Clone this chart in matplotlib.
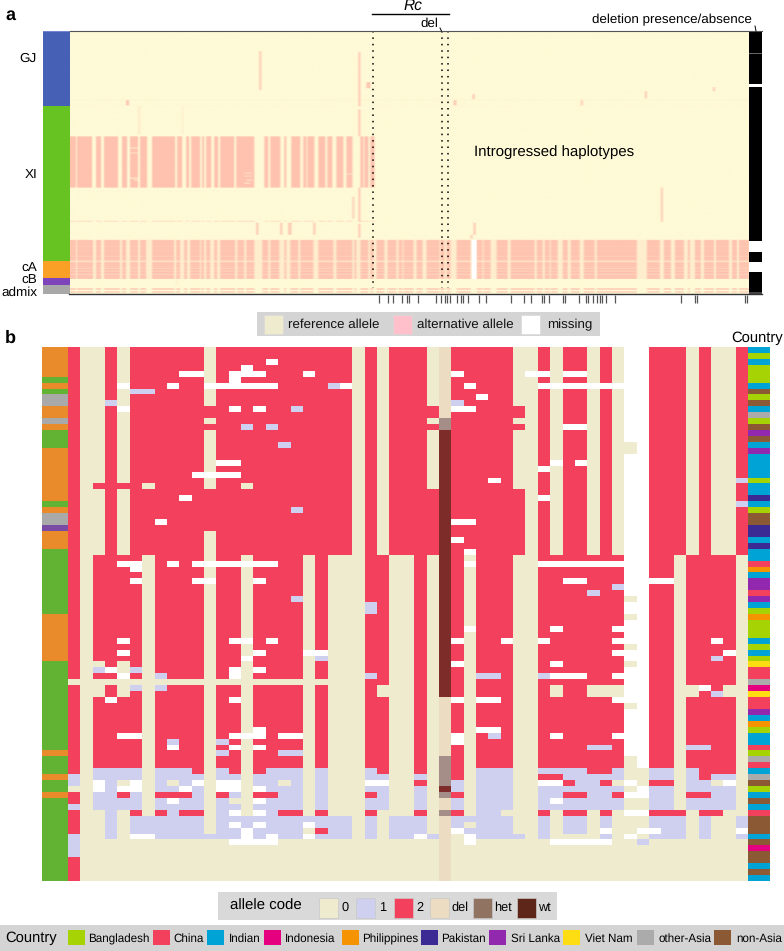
# -*- coding: utf-8 -*-
import numpy as np
import matplotlib
matplotlib.use('Agg')
import matplotlib.pyplot as plt
from matplotlib.colors import ListedColormap, LinearSegmentedColormap, to_rgb
from matplotlib.patches import Rectangle

plt.rcParams['font.family'] = ['Liberation Sans', 'DejaVu Sans']
plt.rcParams['text.hinting'] = 'none'

W, H = 784, 951

# ---- panel a data (positions on the haplotype axis)
group_names = ['GJ', 'XI', 'cA', 'cB', 'admix']
group_sizes = [74.5, 155.5, 17, 7, 9]
group_colors = ['#4560B4', '#66C322', '#FBA026', '#7E44BA', '#A8A8A8']

upper_stripes = [(69.5, 75), (76.7, 91.7), (95, 100.7), (104, 117.3), (122, 126.7), (129, 137.7),
                 (140, 146.7), (151.7, 174.3), (176.7, 181.3), (185.3, 188.3), (190.7, 200),
                 (202, 204), (206, 210.7), (213.3, 217.3), (220, 234), (236, 254), (263.3, 268),
                 (270, 279.3), (283.7, 285.7), (290.7, 300), (302.7, 305), (306.7, 313.3),
                 (317.7, 324.3), (326.7, 331.7), (336, 342.7), (345, 352), (360, 362.7),
                 (364, 367.3), (370, 373.3)]
lower_stripes = [(70, 75), (76.7, 92.7), (96, 100.7), (103.3, 119.3), (122, 126), (129, 137.3),
                 (140, 146), (151.7, 173.3), (176, 180), (184, 186.7), (189.3, 199.3),
                 (200.7, 203.3), (205, 210), (213.3, 216.7), (219.3, 234.7), (236.7, 244),
                 (246, 253.3), (261.7, 267.3), (270, 278.3), (283.3, 286), (290, 297.3),
                 (299.3, 312.7), (317.3, 332.7), (336, 351.7), (353.3, 355.3), (359.3, 367.3),
                 (369.3, 372.7), (376, 383.3), (386.7, 395), (397.3, 401.7), (402.7, 412.7),
                 (415, 421.7), (425, 429.3), (430, 438.3), (440, 444), (445.3, 450), (455, 470),
                 (475, 481.7), (482.7, 490), (495.3, 506.7), (509.3, 533.3), (535, 541),
                 (543.3, 548.3), (550, 556.7), (561, 566.7), (570, 578.3), (582.3, 593.3),
                 (595.7, 635.7), (645.7, 658.3), (662.3, 669), (673, 682.3), (686.7, 688.3),
                 (693.3, 700), (702.7, 712.3), (714.3, 727.7), (730.3, 735), (737, 747.7)]
lower_row_shade = [.85, .95, 1, .9, 1, 1, .8, 1, .95, 1, .85, .95, 1, .9, 1, .95, .8, 1, .9, 1,
                   .7, .45, .75, 1, .9, 1, .85, .95, .7, 1, .9, .8, 1, .95, .7, 1, .85, 1, .9]
# x0, x1, y0, y1, strength
streaks = [(357, 359.5, 53, 107, .85), (357, 359.5, 110, 136.5, .85), (357, 359.5, 188, 222, .85),
           (357, 359.5, 224, 238, .85), (258.3, 260.7, 52, 91, .8), (126, 128.5, 101, 106, .9),
           (366, 370, 83, 89, .9), (352, 353.7, 197, 219, .7), (255.7, 258, 223, 235, .9),
           (279, 281, 223, 235, .9), (288, 290.5, 223, 235, .9), (312.5, 314.5, 223, 235, .9),
           (138, 139, 107, 135, .25), (181.5, 182.5, 107, 135, .25), (471, 473, 95, 100, .9),
           (452.5, 455, 101, 106, .85), (644, 646, 92, 99, .8), (580, 582, 101, 106, .8),
           (712, 714, 88, 92, .8), (660, 662, 188, 222, .75), (472.5, 474.5, 223, 235, .9),
           (470, 472, 235, 239, .8), (175, 176, 279, 285, .3)]
# pale specks inside the upper band: x0, x1, y, strength
specks = [(129, 137, 148, .3), (130, 137, 153, .4), (130, 137, 178, .2), (133, 137, 180, .1),
          (243, 252, 173, .4), (243, 252, 176, .5), (245, 252, 180, .3), (243, 250, 183, .2),
          (346, 352, 174, .4)]
del_runs = [(22, 'k'), (0.6, '#666666'), (30.4, 'k'), (2.7, 'w'), (154.3, 'k'), (11, 'w'),
            (10, 'k'), (10, 'w'), (20, 'k'), (2, '#444444')]
rug_ticks = [379.3, 388.5, 392.7, 402, 406.7, 409, 418, 435.7, 440.7, 445, 447.3, 449.7, 456.7,
             461, 463.3, 467.7, 479.3, 486, 510.7, 524.5, 531, 542.3, 544, 549, 563, 565, 579,
             585.7, 588, 592.7, 597.3, 599.7, 602, 606.3, 615.3, 681.3, 695, 697, 744.7, 746.7]
rc_lines = [373.3, 441.7, 448.3]

# ---- panel b data, one string per haplotype group, codes 0 1 2 del=3 het=4 wt=5 missing=9
hap_a = '2 00 2 0 222222 0 22222222222 0 2 0 222 0 3 22222 00 2 0 22 0 2 0 99 222 0 2 00 2'
hap_b = '2 0 2222 0 2222 0 22 0 2222 0 2 000 22 00 2 0 5 2 0 222 00 2222222 99 22 0 2222 0'
n_a, n_b = 35, 36
rows_c = [
    '2 0 1111 0 111 2 0 1 2 0 2 111 0 1 000 1 2 00 2 0 4 2 0 111 00 1111 22 1 00 11 0 1 2 22 0',
    '1 0 1111 0 1111 0 11 0 1111 0 1 000 11 00 1 0 4 2 0 111 00 22 11111 00 11 0 1 2 11 0',
    '1 0 9 1 0 9 0 1 0 1 9 0 99 0 11 0 1 0 1 000 99 00 2 0 4 1 0 111 00 99 2 11 2 0 9 0 22 0 11 0 9 0',
    '0 0 9 1 99 0 11 9 1 0 99 0 9 111 0 1 000 11 00 1 0 5 1 0 111 00 1111111 0 9 11 0 1111 0',
    '2 0 11 2 1 0 222 1 0 2 1 0 22 11 0 1 000 2 1 00 1 0 4 2 0 111 00 11 22 11 2 99 11 0 22 11 0',
    '2 0 1111 0 1 9 11 0 1 0 0 9 111 0 1 000 11 00 1 0 3 1 0 111 00 1 9 11111 00 11 0 1111 0',
    '1 0 1111 0 1111 0 11 0 1111 0 1 000 11 00 1 0 3 1 0 111 00 1111111 00 11 0 1111 0',
    '2 00 1 0 2 0 2 1 22 0 1 9 0 9 1 22 0 2 000 2 0 00 2 0 4 2 0 11 0 00 2 0 22 0 2 0 99 222 0 22 00',
    '2 00 1 0 111111 0 11111111111 0 1 0 111 0 3 11 111 00 1 0 11 0 1 000 111 0 1 00 1',
    '2 00 1 0 111111 0 1 9 1 9 111 9 111 0 1 0 111 0 3 1 0 111 00 1 0 11 0 1 000 111 0 1 00 1',
    '2 00 1 0 111111 0 11 9 1111 0 2 11 0 1 0 111 0 3 9 1 111 00 1 0 11 0 9 00 99 11 0 1 00 9',
    '1 00 1 0 99 1111111 9 1 9 11 9 111 0 1 0 11 9 1 3 0 9 1111 0 1 0000 1 0 9 0 111 0 1 00 1',
    '1 000000000000 9999 0000000000000 3 0 9 000000 99999 00 1 00000000',
    '1 00000000000000000000000000000 3 000000000000000000000000',
    '1 00000000000000000000000000000 3 000000000000000000000000',
    '2 00000000000000000000000000000 3 000000000000000000000000',
    '2 00000000000000000000000000000 3 000000000000000000000000',
    '2 00000000000000000000000000000 3 000000000000000000000000',
    '2 00000000000000000000000000000 3 000000000000000000000000',
]
# first row, last row, first col, last col, code
patches_ab = [
    (0, 11, 30, 30, 3), (12, 13, 30, 30, 4), (14, 34, 30, 30, 5),
    (10, 11, 11, 11, 2), (13, 13, 11, 11, 2), (24, 30, 11, 11, 2),
    (10, 11, 29, 29, 2), (13, 13, 29, 29, 2), (24, 34, 29, 29, 2),
    (10, 11, 36, 36, 2), (13, 13, 36, 36, 2), (24, 34, 36, 36, 2),
    (2, 2, 16, 16, 9), (3, 3, 14, 14, 9), (4, 4, 9, 10, 9), (4, 4, 13, 15, 9), (4, 4, 19, 19, 9),
    (5, 5, 13, 13, 9), (6, 6, 4, 4, 9), (6, 6, 8, 8, 9), (6, 6, 11, 16, 9), (6, 6, 21, 21, 1),
    (6, 6, 22, 22, 9), (7, 7, 5, 6, 1), (9, 9, 3, 3, 1), (10, 10, 4, 4, 9), (10, 10, 13, 13, 9),
    (10, 10, 15, 15, 9), (10, 10, 18, 18, 1), (13, 13, 14, 14, 1), (13, 13, 16, 16, 1),
    (16, 16, 17, 17, 1), (19, 19, 12, 13, 9), (21, 21, 10, 13, 9), (23, 23, 2, 5, 2),
    (23, 23, 6, 6, 0), (23, 23, 14, 14, 0), (25, 25, 9, 9, 9), (27, 27, 18, 18, 1), (29, 29, 7, 7, 9),
    (4, 4, 31, 31, 9), (4, 4, 37, 38, 9), (4, 4, 40, 41, 9), (6, 6, 32, 32, 9), (6, 6, 38, 44, 9),
    (8, 8, 33, 33, 9), (9, 9, 31, 31, 1), (10, 10, 31, 32, 9), (13, 13, 40, 41, 9),
    (16, 17, 45, 45, 0), (19, 19, 39, 39, 9), (19, 19, 41, 41, 9), (20, 20, 38, 38, 9),
    (22, 22, 34, 34, 9), (22, 22, 54, 54, 1), (25, 25, 38, 38, 9), (26, 26, 54, 54, 1),
    (29, 29, 31, 32, 9), (32, 32, 31, 31, 9), (34, 34, 32, 32, 9),
    (36, 36, 4, 5, 9), (37, 37, 5, 5, 9), (36, 36, 8, 8, 9), (36, 36, 10, 16, 9), (39, 39, 5, 5, 9),
    (39, 39, 10, 11, 9), (39, 39, 15, 15, 9), (42, 42, 18, 18, 1), (43, 44, 24, 24, 1),
    (36, 36, 32, 32, 9), (36, 36, 38, 44, 9), (39, 39, 40, 41, 9), (39, 39, 47, 48, 9),
    (40, 40, 44, 44, 1), (41, 41, 42, 42, 1), (42, 42, 45, 45, 0), (45, 45, 45, 45, 0),
    (49, 49, 4, 4, 9), (49, 49, 13, 14, 9), (49, 49, 16, 16, 9), (51, 51, 4, 4, 9), (51, 51, 15, 15, 9),
    (51, 51, 19, 20, 9), (52, 52, 14, 14, 9), (52, 52, 20, 20, 1), (53, 53, 2, 2, 0), (53, 54, 4, 4, 0),
    (54, 54, 2, 2, 1), (54, 54, 3, 3, 9), (54, 54, 5, 5, 1), (54, 55, 13, 13, 9), (54, 54, 15, 15, 9),
    (55, 55, 4, 4, 9), (55, 55, 7, 7, 1), (55, 55, 24, 24, 1), (56, 56, 0, 23, 0),
    (57, 58, 2, 2, 0), (57, 58, 4, 4, 0), (57, 57, 5, 5, 1), (57, 57, 7, 7, 1), (57, 58, 25, 25, 0),
    (59, 59, 3, 3, 9), (59, 59, 13, 13, 9), (65, 65, 4, 5, 9), (65, 65, 13, 15, 9), (64, 64, 15, 15, 9),
    (65, 65, 17, 18, 9), (66, 66, 8, 8, 1), (66, 66, 12, 12, 1), (67, 67, 8, 8, 9), (67, 67, 13, 13, 9),
    (67, 67, 15, 15, 9), (68, 68, 12, 12, 1), (68, 68, 17, 18, 1),
    (47, 47, 32, 32, 9), (47, 47, 39, 39, 9), (47, 47, 44, 44, 9), (49, 49, 31, 31, 9), (49, 49, 35, 35, 9),
    (49, 49, 38, 38, 9), (49, 49, 44, 44, 9), (49, 49, 52, 52, 9), (50, 50, 45, 45, 0), (51, 51, 44, 44, 9),
    (51, 51, 53, 53, 9), (52, 52, 52, 52, 1), (53, 53, 31, 31, 9), (53, 53, 39, 39, 9), (53, 53, 45, 45, 0),
    (55, 55, 33, 34, 1), (55, 55, 38, 38, 1), (55, 55, 39, 41, 9), (55, 55, 44, 44, 9),
    (57, 58, 39, 39, 0), (57, 58, 42, 44, 0), (57, 58, 50, 50, 0), (57, 57, 51, 51, 9), (57, 58, 53, 53, 0),
    (58, 58, 52, 52, 1), (59, 70, 30, 30, 3), (59, 59, 31, 31, 9), (59, 59, 33, 34, 9), (59, 59, 44, 44, 9),
    (60, 60, 45, 45, 0), (64, 64, 33, 34, 9), (65, 66, 31, 31, 9), (65, 65, 34, 34, 1), (65, 65, 39, 39, 9),
    (65, 65, 44, 44, 9), (67, 67, 42, 43, 1), (67, 67, 50, 51, 1), (69, 70, 30, 30, 4), (69, 70, 45, 45, 0),
]
# per row colours of the two side bars
subpop_runs = [('o', 5), ('g', 1), ('o', 1), ('g', 1), ('y', 2), ('o', 2), ('y', 1), ('o', 1), ('g', 3),
               ('o', 9), ('g', 1), ('o', 1), ('y', 2), ('p', 1), ('o', 3), ('g', 11), ('o', 8), ('g', 15),
               ('o', 1), ('g', 3), ('o', 1), ('g', 2), ('o', 1), ('g', 14)]
subpop_colors = {'o': '#E98B2A', 'g': '#62B233', 'y': '#A9A9A9', 'p': '#7A4BA5'}
country_rows = ('IBIBBBIABAIOBASAISIIIIBIIKIBAAKKIKIICPISSCSIBP'
                'BBBIBIBVCCONVCCSIPBIICBOCIOABIAICAAAIANAAIAI')
country_names = ['Bangladesh', 'China', 'Indian', 'Indonesia', 'Philippines', 'Pakistan',
                 'Sri Lanka', 'Viet Nam', 'other-Asia', 'non-Asia']
country_keys = ['B', 'C', 'I', 'N', 'P', 'K', 'S', 'V', 'O', 'A']
country_colors = ['#A5D303', '#F2405D', '#00A3D6', '#E4007F', '#F59300', '#3B2A94', '#9128AD',
                  '#FFDD13', '#ABABAB', '#8B5A34']
allele_names = ['0', '1', '2', 'del', 'het', 'wt']
allele_colors = ['#EFEBCE', '#CFCFF0', '#F2405D', '#ECDCC2', '#917361', '#5E2618']
# inside the heat map het and wt come out paler than in their legend
cell_colors = ['#EFEBCE', '#CFCFF0', '#F2405D', '#ECDCC2', '#A68E88', '#7E2C2A', '#FFFFFF']


def px_axes(x0, y0, x1, y1):
    a = fig.add_axes([x0 / W, 1 - y1 / H, (x1 - x0) / W, (y1 - y0) / H])
    a.set_axis_off()
    return a


def paint(mat, x0, x1, y0, y1, val):
    i0, i1 = int(round(y0 - 31)), int(round(y1 - 31))
    j0, j1 = int(round(x0 - 69.5)), int(round(x1 - 69.5))
    mat[max(i0, 0):max(i1, i0 + 1), max(j0, 0):max(j1, j0 + 1)] = val


fig = plt.figure(figsize=(W / 100, H / 100), dpi=100, facecolor='white')

# panel a
ax_grp = px_axes(43, 31, 69.5, 294)
bottom = 0
for size, col in zip(group_sizes, group_colors):
    ax_grp.bar(0, size, bottom=bottom, width=1, color=col)
    bottom += size
ax_grp.set_xlim(-0.5, 0.5)
ax_grp.set_ylim(bottom, 0)

hap = np.zeros((263, 679))
for x0, x1 in upper_stripes:
    paint(hap, x0, x1, 136.5, 188, 1.0)
    paint(hap, x0, x1, 221, 222, 0.5)
for x0, x1, yy, v in specks:
    paint(hap, x0, x1, yy, yy + 1, v)
hap[69, :] = 0.08
hap[75, :] = 0.06
hap[240 - 31:279 - 31, :] = 0.2
for x0, x1 in lower_stripes:
    for k, shade in enumerate(lower_row_shade):
        paint(hap, x0, x1, 240 + k, 241 + k, shade)
    paint(hap, x0, x1, 288, 290, 0.65)
    paint(hap, x0, x1, 291, 293, 0.55)
for x0, x1, y0, y1, v in streaks:
    paint(hap, x0, x1, y0, y1, v)
# the source is soft along the haplotype axis
hap[:, 1:-1] = 0.25 * hap[:, :-2] + 0.5 * hap[:, 1:-1] + 0.25 * hap[:, 2:]
hap[240 - 31:279 - 31, 401:406] = np.nan
cream_pink = LinearSegmentedColormap.from_list('ap', ['#FEF9D6', '#FFC2AE'])
cream_pink.set_bad('white')
ax_hap = px_axes(69.5, 31, 748.5, 294)
ax_hap.imshow(hap, cmap=cream_pink, vmin=0, vmax=1, aspect='auto', interpolation='bilinear',
              extent=(69.5, 748.5, 294, 31))
ax_hap.vlines(rc_lines, 31, 288, color='k', lw=1.1, linestyles=(0, (1, 3.2)))

ax_del = px_axes(748.5, 31, 762, 294)
bottom = 0
for size, col in del_runs:
    ax_del.bar(0, size, bottom=bottom, width=1, color=col)
    bottom += size
ax_del.set_xlim(-0.5, 0.5)
ax_del.set_ylim(bottom, 0)

# panel b
rows = []
for r in range(n_a):
    rows.append([int(c) for c in hap_a.replace(' ', '')])
for r in range(n_b):
    rows.append([int(c) for c in hap_b.replace(' ', '')])
for s in rows_c:
    rows.append([int(c) for c in s.replace(' ', '')])
codes = np.array(rows)
for r0, r1, c0, c1, code in patches_ab:
    codes[r0:r1 + 1, c0:c1 + 1] = code
codes[codes == 9] = 6
code_cmap = ListedColormap(cell_colors)
ax_b = px_axes(68, 347, 747.7, 881)
ax_b.imshow(codes, cmap=code_cmap, vmin=-0.5, vmax=6.5, aspect='auto', interpolation='nearest')

subpop = []
for key, n in subpop_runs:
    subpop += [subpop_colors[key]] * n
ax_sub = px_axes(42.3, 347, 68, 881)
ax_sub.imshow(np.array([[to_rgb(c)] for c in subpop]), aspect='auto', interpolation='nearest')

key_to_color = dict(zip(country_keys, country_colors))
ax_cty = px_axes(747.7, 347, 769, 881)
ax_cty.imshow(np.array([[to_rgb(key_to_color[c])] for c in country_rows]),
              aspect='auto', interpolation='nearest')

# overlay with text, rug and legends, in picture pixels
ov = fig.add_axes([0, 0, 1, 1], zorder=5)
ov.set_xlim(0, W)
ov.set_ylim(H, 0)
ov.set_axis_off()
ov.patch.set_alpha(0)

ov.plot([69.5, 762], [31, 31], color='#555555', lw=0.8)
ov.plot([69.5, 762], [294, 294], color='#333333', lw=1.0)
ov.plot([43, 69.5], [31, 31], color='#8899DD', lw=0.5)
ov.vlines(rug_ticks, 294.5, 303, color='#555555', lw=0.9)
ov.plot([372.5, 449], [14, 14], color='k', lw=1.0)
ov.plot([440, 441.5], [28, 31], color='k', lw=0.7)
ov.plot([755, 756], [26, 31], color='k', lw=0.7)

ov.text(412.5, 6, 'Rc', style='italic', fontsize=11.2, ha='center', va='center')
ov.text(438.5, 24, 'del', fontsize=9.6, ha='right', va='center')
ov.text(752, 19.5, 'deletion presence/absence', fontsize=9.6, ha='right', va='center')
ov.text(474, 152, 'Introgressed haplotypes', fontsize=10.8, ha='left', va='center')
ov.text(5, 15, 'a', fontsize=13, weight='bold', ha='left', va='center')
ov.text(5, 338, 'b', fontsize=13, weight='bold', ha='left', va='center')
ov.text(783, 338, 'Country', fontsize=10.6, ha='right', va='center')
for name, yy in zip(group_names, [58.5, 174.5, 268.5, 281, 293]):
    ov.text(37, yy, name, fontsize=9.7, ha='right', va='center')

# legend of panel a
ov.add_patch(Rectangle((257, 312), 343, 24, color='#D4D4D4', lw=0))
for x0, col, name, tx in [(264, '#EEEBCE', 'reference allele', 288),
                          (393, '#FFC0CB', 'alternative allele', 416.7),
                          (521, '#FFFFFF', 'missing', 547)]:
    ov.add_patch(Rectangle((x0, 315), 19.5, 19, facecolor=col, edgecolor='#DADADA', lw=0.5))
    ov.text(tx, 325, name, fontsize=9.6, ha='left', va='center', color='#111111')

# legend allele code
ov.add_patch(Rectangle((218, 892), 339, 28, color='#D9D9D9', lw=0))
ov.text(230, 906, 'allele code', fontsize=10.8, ha='left', va='center')
allele_x = [319.5, 356.5, 394.5, 430.5, 473, 517]
allele_tx = [341.5, 379, 416, 451.5, 494.5, 538]
for x0, tx, col, name in zip(allele_x, allele_tx, allele_colors, allele_names):
    ov.add_patch(Rectangle((x0, 898), 19, 20, facecolor=col, edgecolor='#C8C8C8', lw=0.5))
    ov.text(tx, 908, name, fontsize=9.2, ha='left', va='center')

# legend country
ov.add_patch(Rectangle((0, 925), 784, 26, color='#D4D4D4', lw=0))
ov.text(5, 938, 'Country', fontsize=10.6, ha='left', va='center')
country_x = [68, 153, 207.5, 264.5, 342.5, 421, 489.5, 563, 637, 714]
country_tx = [88, 173, 229, 285, 362.5, 441, 511, 585.5, 658.5, 736]
for x0, tx, col, name in zip(country_x, country_tx, country_colors, country_names):
    ov.add_patch(Rectangle((x0, 930), 17, 15, color=col, lw=0))
    ov.text(tx, 939, name, fontsize=8.4, ha='left', va='center')

fig.savefig('out.png', dpi=100)
